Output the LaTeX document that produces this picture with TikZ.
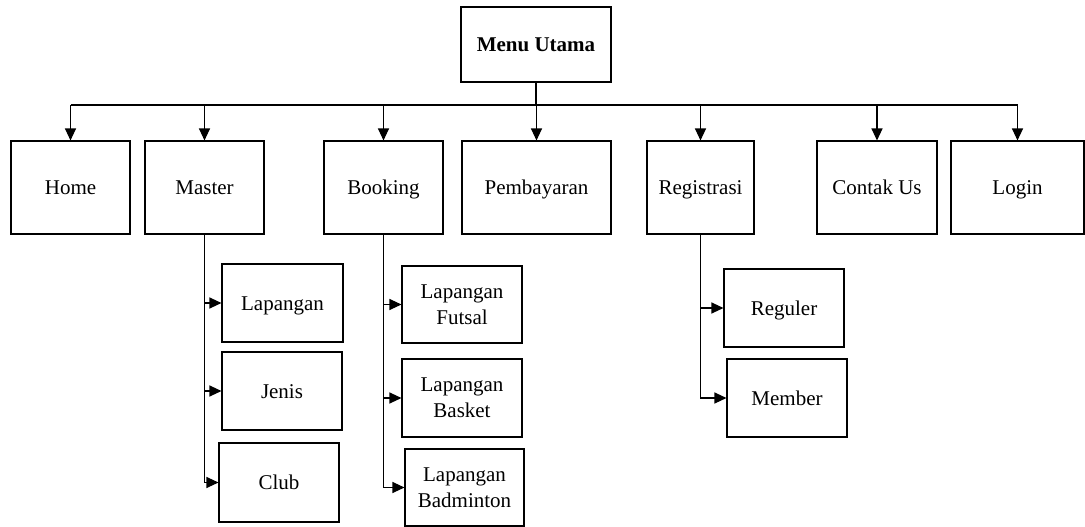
\documentclass[tikz,border=0pt]{standalone}
\usepackage{fontspec}
\setmainfont{Liberation Serif}
\usetikzlibrary{arrows.meta}
\begin{document}
\begin{tikzpicture}[x=1pt,y=-1pt,
  box/.style={draw, line width=1.1pt, inner sep=0pt, align=center,
    font=\fontsize{21}{26}\selectfont},
  oneline/.style={box, text height=14pt, text depth=0pt},
  arr/.style={line width=1.2pt, -{Triangle[length=12pt,width=11pt]}},
  link/.style={line width=1.2pt}]
\useasboundingbox (0,0) rectangle (1085,527);

% root
\node[oneline, font=\fontsize{21}{26}\selectfont\bfseries, minimum width=150pt, minimum height=75pt] (menu) at (536,44.5) {Menu Utama};

% first level
\node[oneline, minimum width=119pt, minimum height=93pt] (home)    at (70.5,187.5)  {Home};
\node[oneline, minimum width=119pt, minimum height=93pt] (master)  at (204.5,187.5) {Master};
\node[oneline, minimum width=119pt, minimum height=93pt] (booking) at (383.5,187.5) {Booking};
\node[oneline, minimum width=149pt, minimum height=93pt] (bayar)   at (536.5,187.5) {Pembayaran};
\node[oneline, minimum width=107pt, minimum height=93pt] (regis)   at (700.5,187.5) {Registrasi};
\node[oneline, minimum width=120pt, minimum height=93pt] (contak)  at (877,187.5)   {Contak Us};
\node[oneline, minimum width=133pt, minimum height=93pt] (login)   at (1017.5,187.5) {Login};

% Master children
\node[oneline, minimum width=121pt, minimum height=78pt] (lapangan) at (282.5,303)  {Lapangan};
\node[oneline, minimum width=120pt, minimum height=78pt] (jenis)    at (282,391)    {Jenis};
\node[oneline, minimum width=120pt, minimum height=79pt] (club)     at (279,482.5)  {Club};

% Booking children
\node[box, minimum width=120pt, minimum height=77pt] (futsal)    at (462,304.5) {Lapangan\\Futsal};
\node[box, minimum width=120pt, minimum height=78pt] (basket)    at (462,398)   {Lapangan\\Basket};
\node[box, minimum width=119pt, minimum height=77pt] (badminton) at (464.5,487.5) {Lapangan\\Badminton};

% Registrasi children
\node[oneline, minimum width=120pt, minimum height=78pt] (reguler) at (784,308) {Reguler};
\node[oneline, minimum width=120pt, minimum height=78pt] (member)  at (787,398) {Member};

% bus from the root to the first level
\coordinate (bus) at (536,105);
\draw[link] (menu.south) -- (bus);
\draw[link] (home.north |- bus) -- (login.north |- bus);
\foreach \n in {home,master,booking,bayar,regis,contak,login}
  \draw[arr] (\n.north |- bus) -- (\n.north);

% branches to the sub-menus
\foreach \p/\c in {master/lapangan, master/jenis, master/club,
                   booking/futsal, booking/basket, booking/badminton,
                   regis/reguler, regis/member}
  \draw[arr] (\p.south) |- (\c.west);
\end{tikzpicture}
\end{document}
